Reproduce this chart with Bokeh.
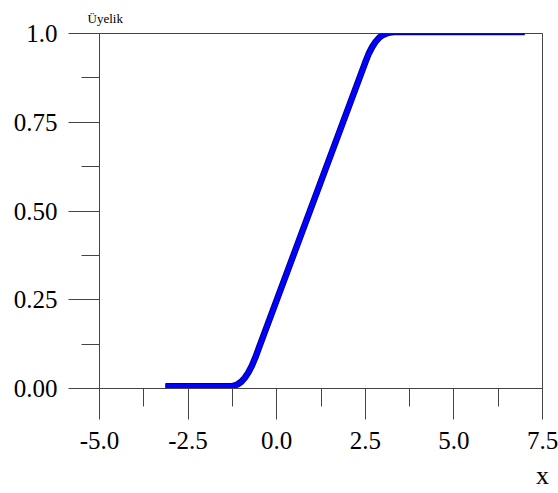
from bokeh.plotting import figure
from bokeh.models import Range1d, FixedTicker, ColumnDataSource
from bokeh.embed import file_html
from bokeh.resources import INLINE

# data
x_vals = [-3.14, -1.3, -1.2, -1.1, -1.0, -0.9, -0.8, -0.7, -0.6, -0.5,
          2.4, 2.5, 2.6, 2.7, 2.8, 2.9, 3.0, 3.1, 3.2, 3.3, 7.0]
membership = [0.006, 0.006, 0.008, 0.012, 0.019, 0.03, 0.045, 0.064, 0.088, 0.115,
              0.892, 0.919, 0.944, 0.963, 0.978, 0.989, 0.996, 1.0, 1.003, 1.004, 1.004]

x_ticks = [-5.0, -2.5, 0.0, 2.5, 5.0, 7.5]
x_tick_labels = ["-5.0", "-2.5", "0.0", "2.5", "5.0", "7.5"]
x_minor = [-3.75, -1.25, 1.25, 3.75, 6.25]
y_ticks = [0.0, 0.25, 0.5, 0.75, 1.0]
y_tick_labels = ["0.00", "0.25", "0.50", "0.75", "1.0"]
y_minor = [0.125, 0.375, 0.625, 0.875]
x_name = "x"
y_name = "Üyelik"

FONT = "Liberation Serif"
AX = "#444444"

p = figure(width=558, height=493, output_backend="svg", toolbar_location=None,
           x_range=Range1d(-5, 7.5), y_range=Range1d(0, 1),
           min_border_left=99, min_border_right=16, min_border_top=33, min_border_bottom=105)
p.grid.visible = False
p.outline_line_color = AX
p.outline_line_width = 1
p.background_fill_color = "white"
p.border_fill_color = "white"

p.title.text = y_name
p.title.align = "left"
p.title.offset = -12
p.title.standoff = 15
p.title.text_font = FONT
p.title.text_font_size = "13px"
p.title.text_font_style = "normal"
p.title.text_color = "black"

src = ColumnDataSource(dict(x=x_vals, y=membership))
p.line("x", "y", source=src, line_color="#00008b", line_width=6.5, line_join="round", line_cap="butt")
p.line("x", "y", source=src, line_color="#0000ff", line_width=4.5, line_join="round", line_cap="butt")

for ax, ticks, minor, labels in ((p.xaxis[0], x_ticks, x_minor, x_tick_labels),
                                  (p.yaxis[0], y_ticks, y_minor, y_tick_labels)):
    ax.ticker = FixedTicker(ticks=ticks, minor_ticks=minor)
    ax.major_label_overrides = {t: l for t, l in zip(ticks, labels)}
    ax.axis_line_color = AX
    ax.major_tick_line_color = AX
    ax.minor_tick_line_color = AX
    ax.major_tick_in = 0
    ax.major_tick_out = 31
    ax.minor_tick_in = 0
    ax.minor_tick_out = 18
    ax.major_label_text_font = FONT
    ax.major_label_text_font_size = "25px"
    ax.major_label_text_color = "black"

p.xaxis.major_label_standoff = 12
p.yaxis.major_label_standoff = 11

p.xaxis.axis_label = x_name
p.xaxis.axis_label_align = "end"
p.xaxis.axis_label_standoff = 9
p.xaxis.axis_label_text_font = FONT
p.xaxis.axis_label_text_font_size = "26px"
p.xaxis.axis_label_text_font_style = "normal"
p.xaxis.axis_label_text_color = "black"

open("out.html", "w").write(file_html(p, INLINE))
